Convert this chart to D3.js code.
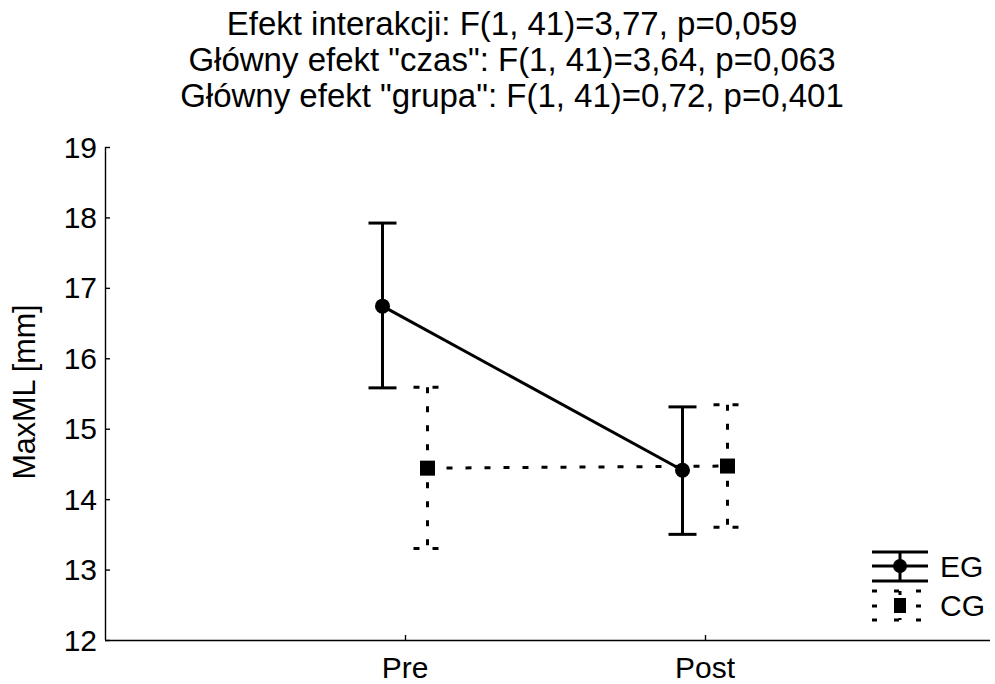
<!DOCTYPE html>
<html>
<head>
<meta charset="utf-8">
<script src="https://cdn.jsdelivr.net/npm/d3@7"></script>
<style>
  html, body { margin: 0; padding: 0; background: #fff; }
  svg { display: block; font-family: "Liberation Sans", Arial, sans-serif; }
</style>
</head>
<body>
<svg id="chart" width="995" height="684"></svg>
<script>
// Time points and y-axis ticks
const timePoints = ["Pre", "Post"];
const yTicks = [12, 13, 14, 15, 16, 17, 18, 19];

// Group means with confidence limits (MaxML, mm)
const groups = ["EG", "CG"];
const egMean  = [16.74, 14.41];
const egLower = [15.58, 13.50];
const egUpper = [17.92, 15.31];
const cgMean  = [14.44, 14.47];
const cgLower = [13.30, 13.60];
const cgUpper = [15.59, 15.34];

const titleLines = [
  "Efekt interakcji: F(1, 41)=3,77, p=0,059",
  "Główny efekt \"czas\": F(1, 41)=3,64, p=0,063",
  "Główny efekt \"grupa\": F(1, 41)=0,72, p=0,401"
];
const yLabel = "MaxML [mm]";

const svg = d3.select("#chart");
const plotLeft = 105, plotRight = 990, plotTop = 147, plotBottom = 640;

const y = d3.scaleLinear().domain([12, 19]).range([plotBottom, plotTop]);
const x = d3.scaleLinear().domain([0, 2.95]).range([plotLeft, plotRight]);
const groupOffset = { EG: -22.5, CG: 22.5 };

// Title
svg.append("g").selectAll("text").data(titleLines).join("text")
  .attr("x", 512).attr("y", (d, i) => 35 + i * 36)
  .attr("text-anchor", "middle").attr("font-size", 33).attr("fill", "#000")
  .text(d => d);

// Y axis
const yAxis = svg.append("g").attr("transform", `translate(${plotLeft},0)`)
  .call(d3.axisRight(y).tickValues(yTicks).tickSize(5).tickFormat(""));
yAxis.select(".domain").attr("d", `M0.5,${plotTop}V${plotBottom}`).attr("stroke", "#000").attr("stroke-width", 1.4);
yAxis.selectAll(".tick line").attr("stroke", "#000").attr("stroke-width", 1.4);
svg.append("g").selectAll("text").data(yTicks).join("text")
  .attr("x", plotLeft - 8).attr("y", d => y(d) + 10.5)
  .attr("text-anchor", "end").attr("font-size", 30).text(d => d);

// X axis
const xAxis = svg.append("g").attr("transform", `translate(0,${plotBottom})`)
  .call(d3.axisTop(x).tickValues([1, 2]).tickSize(5).tickFormat(""));
xAxis.select(".domain").attr("d", `M${plotLeft},0.5H${plotRight}`).attr("stroke", "#000").attr("stroke-width", 1.4);
xAxis.selectAll(".tick line").attr("stroke", "#000").attr("stroke-width", 1.4);
svg.append("g").selectAll("text").data(timePoints).join("text")
  .attr("x", (d, i) => x(i + 1)).attr("y", plotBottom + 38)
  .attr("text-anchor", "middle").attr("font-size", 30).text(d => d);

// Y label
svg.append("text")
  .attr("transform", `translate(35,392) rotate(-90)`)
  .attr("text-anchor", "middle").attr("font-size", 30.5).text(yLabel);

// Series
const series = [
  { name: "EG", mean: egMean, lo: egLower, hi: egUpper, dash: null, marker: "circle" },
  { name: "CG", mean: cgMean, lo: cgLower, hi: cgUpper, dash: "6,13", marker: "square" }
];

const capHalf = 14;
series.forEach(s => {
  const px = i => x(i + 1) + groupOffset[s.name];
  const g = svg.append("g");
  const pts = s.mean.map((m, i) => [px(i), y(m)]);
  g.append("path").attr("d", d3.line()(pts))
    .attr("fill", "none").attr("stroke", "#000").attr("stroke-width", 3)
    .attr("stroke-dasharray", s.dash);
  s.mean.forEach((m, i) => {
    const cx = px(i);
    const st = el => el.attr("stroke", "#000").attr("stroke-width", 3).attr("stroke-dasharray", s.dash);
    st(g.append("line").attr("x1", cx).attr("x2", cx).attr("y1", y(s.hi[i])).attr("y2", y(s.lo[i])));
    st(g.append("line").attr("x1", cx - capHalf).attr("x2", cx + capHalf).attr("y1", y(s.hi[i])).attr("y2", y(s.hi[i])));
    st(g.append("line").attr("x1", cx - capHalf).attr("x2", cx + capHalf).attr("y1", y(s.lo[i])).attr("y2", y(s.lo[i])));
    if (s.marker === "circle") {
      g.append("circle").attr("cx", cx).attr("cy", y(m)).attr("r", 7.5).attr("fill", "#000");
    } else {
      g.append("rect").attr("x", cx - 7.5).attr("y", y(m) - 7.5).attr("width", 15).attr("height", 15).attr("fill", "#000");
    }
  });
});

// Legend
const lg = svg.append("g");
const lx = 900;
// EG symbol
[552, 566, 581].forEach(yy => lg.append("line").attr("x1", lx - 28).attr("x2", lx + 28)
  .attr("y1", yy).attr("y2", yy).attr("stroke", "#000").attr("stroke-width", 3));
lg.append("line").attr("x1", lx).attr("x2", lx).attr("y1", 552).attr("y2", 581).attr("stroke", "#000").attr("stroke-width", 3);
lg.append("circle").attr("cx", lx).attr("cy", 566).attr("r", 7).attr("fill", "#000");
// CG symbol
[591, 606, 620].forEach(yy => lg.append("line").attr("x1", lx - 28).attr("x2", lx + 28)
  .attr("y1", yy).attr("y2", yy).attr("stroke", "#000").attr("stroke-width", 3)
  .attr("stroke-dasharray", "5,17").attr("stroke-dashoffset", 0));
lg.append("line").attr("x1", lx).attr("x2", lx).attr("y1", 591).attr("y2", 620)
  .attr("stroke", "#000").attr("stroke-width", 3).attr("stroke-dasharray", "4,5");
lg.append("rect").attr("x", lx - 6).attr("y", 598).attr("width", 12).attr("height", 15).attr("fill", "#000");
lg.selectAll("text.leg").data(groups).join("text").attr("class", "leg")
  .attr("x", 940).attr("y", (d, i) => 577 + i * 39)
  .attr("font-size", 30).text(d => d);
</script>
</body>
</html>
